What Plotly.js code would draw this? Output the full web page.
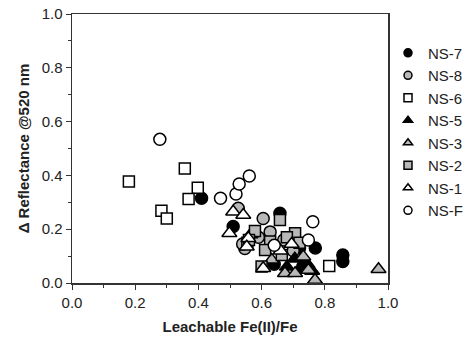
<!DOCTYPE html>
<html>
<head>
<meta charset="utf-8">
<script src="https://cdn.plot.ly/plotly-3.0.1.min.js"></script>
<style>html,body{margin:0;padding:0;background:#fff;}#chart{width:466px;height:344px;}</style>
</head>
<body>
<div id="chart"></div>
<script>
// Series names (legend order)
var seriesNames = ["NS-7", "NS-8", "NS-6", "NS-5", "NS-3", "NS-2", "NS-1", "NS-F"];

// Leachable Fe(II)/Fe (x) and Δ Reflectance @520 nm (y) per series
var ns7X = [0.41, 0.51, 0.658, 0.77, 0.857, 0.857, 0.73, 0.64, 0.72];
var ns7Y = [0.315, 0.21, 0.259, 0.13, 0.104, 0.08, 0.06, 0.07, 0.13];

var ns8X = [0.526, 0.605, 0.627, 0.547, 0.67, 0.59, 0.70, 0.54];
var ns8Y = [0.278, 0.24, 0.19, 0.128, 0.16, 0.17, 0.12, 0.145];

var ns6X = [0.18, 0.357, 0.398, 0.369, 0.283, 0.30, 0.814, 0.555];
var ns6Y = [0.377, 0.426, 0.354, 0.312, 0.269, 0.24, 0.063, 0.15];

var ns5X = [0.722, 0.745, 0.76, 0.68, 0.705];
var ns5Y = [0.05, 0.07, 0.045, 0.06, 0.09];

var ns3X = [0.97, 0.769, 0.674, 0.706, 0.748, 0.632, 0.732, 0.565];
var ns3Y = [0.051, 0.011, 0.036, 0.036, 0.048, 0.086, 0.098, 0.18];

var ns2X = [0.579, 0.658, 0.706, 0.627, 0.611, 0.664, 0.60, 0.72, 0.68, 0.56];
var ns2Y = [0.193, 0.234, 0.185, 0.154, 0.123, 0.104, 0.061, 0.15, 0.17, 0.16];

var ns1X = [0.51, 0.542, 0.498, 0.558, 0.695, 0.605, 0.553, 0.66];
var ns1Y = [0.265, 0.253, 0.185, 0.166, 0.145, 0.055, 0.135, 0.12];

var nsFX = [0.278, 0.47, 0.519, 0.529, 0.561, 0.762, 0.748, 0.64];
var nsFY = [0.534, 0.315, 0.331, 0.368, 0.398, 0.228, 0.16, 0.14];

var xTickVals = [0, 0.2, 0.4, 0.6, 0.8, 1.0];
var xTickText = ["0.0", "0.2", "0.4", "0.6", "0.8", "1.0"];
var yTickVals = [0, 0.2, 0.4, 0.6, 0.8, 1.0];
var yTickText = ["0.0", "0.2", "0.4", "0.6", "0.8", "1.0"];

var GRAY = "#b8b8b8";
var styles = [
  {symbol: "circle", color: "#000000", size: 12},
  {symbol: "circle", color: GRAY, size: 12},
  {symbol: "square", color: "#ffffff", size: 11},
  {symbol: "triangle-up", color: "#000000", size: 13},
  {symbol: "triangle-up", color: GRAY, size: 13},
  {symbol: "square", color: GRAY, size: 11},
  {symbol: "triangle-up", color: "#ffffff", size: 13},
  {symbol: "circle", color: "#ffffff", size: 12}
];
var xs = [ns7X, ns8X, ns6X, ns5X, ns3X, ns2X, ns1X, nsFX];
var ys = [ns7Y, ns8Y, ns6Y, ns5Y, ns3Y, ns2Y, ns1Y, nsFY];

var traces = [];
for (var i = 0; i < seriesNames.length; i++) {
  traces.push({
    type: "scatter", mode: "markers", x: xs[i], y: ys[i],
    name: seriesNames[i], showlegend: false, legendgroup: "g" + i,
    marker: {symbol: styles[i].symbol, color: styles[i].color, size: styles[i].size,
             line: {color: "#000000", width: 1.5}},
    hoverinfo: "x+y+name"
  });
}
// legend-only entries with smaller symbols
for (var j = 0; j < seriesNames.length; j++) {
  traces.push({
    type: "scatter", mode: "markers", x: [null], y: [null],
    name: seriesNames[j], showlegend: true, legendgroup: "g" + j,
    marker: {symbol: styles[j].symbol, color: styles[j].color, size: 8,
             line: {color: "#000000", width: 1.5}}
  });
}

var font = {family: "Liberation Sans, Arial, Helvetica, sans-serif", size: 15, color: "#222222"};

var layout = {
  width: 466, height: 344,
  margin: {l: 72, r: 78, t: 14, b: 61, pad: 0, autoexpand: false},
  paper_bgcolor: "#ffffff", plot_bgcolor: "#ffffff",
  font: font,
  showlegend: true,
  legend: {
    x: 1.0, y: 0.916, xanchor: "left", yanchor: "top",
    traceorder: "grouped", tracegroupgap: 0,
    font: {family: font.family, size: 15, color: "#222222"},
    bgcolor: "rgba(0,0,0,0)", borderwidth: 0
  },
  xaxis: {
    range: [0, 1], tickmode: "array", tickvals: xTickVals, ticktext: xTickText,
    ticks: "outside", ticklen: 5, tickwidth: 1, tickcolor: "#333",
    minor: {dtick: 0.1, ticks: "outside", ticklen: 3, tickwidth: 1, tickcolor: "#333"},
    showline: true, linecolor: "#333", linewidth: 1.5, mirror: true,
    showgrid: false, zeroline: false,
    title: {text: "<b>Leachable Fe(II)/Fe</b>", font: {family: font.family, size: 15, color: "#222"}, standoff: 12}
  },
  yaxis: {
    range: [0, 1], tickmode: "array", tickvals: yTickVals, ticktext: yTickText,
    ticks: "outside", ticklen: 5, tickwidth: 1, tickcolor: "#333",
    minor: {dtick: 0.1, ticks: "outside", ticklen: 3, tickwidth: 1, tickcolor: "#333"},
    showline: true, linecolor: "#333", linewidth: 1.5, mirror: true,
    showgrid: false, zeroline: false,
    title: {text: "<b>\u0394 Reflectance @520 nm</b>", font: {family: font.family, size: 15, color: "#222"}, standoff: 8}
  }
};

Plotly.newPlot("chart", traces, layout, {displayModeBar: false, staticPlot: true});
</script>
</body>
</html>
